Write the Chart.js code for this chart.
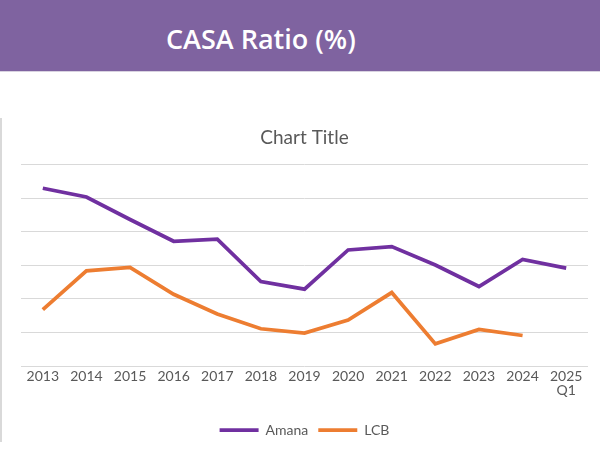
<!DOCTYPE html>
<html>
<head>
<meta charset="utf-8">
<script src="https://cdn.jsdelivr.net/npm/chart.js@4.4.0/dist/chart.umd.min.js"></script>
<style>
  html, body { margin: 0; padding: 0; background: #ffffff; width: 600px; height: 462px; overflow: hidden; }
  #banner { position: absolute; left: 0; top: 0; width: 600px; height: 72px; background: #7F63A0;
    border-bottom: 1px solid #d8d2e0; color: #ffffff; font-family: "Open Sans", sans-serif; font-weight: 600;
    font-size: 27px; text-align: left; line-height: 78px; padding-left: 166px; box-sizing: border-box; }
  #wrap { position: absolute; left: 0; top: 118px; width: 598px; height: 324px; border-left: 2px solid #d9d9d9; overflow: visible; }
  #c { position: absolute; left: 0; top: 0; }
</style>
</head>
<body>
<div id="banner">CASA Ratio (%)</div>
<div id="wrap"><canvas id="c" width="598" height="333"></canvas></div>
<script>
const categories = ["2013","2014","2015","2016","2017","2018","2019","2020","2021","2022","2023","2024",["2025","Q1"]];
const amana = [53.0, 50.4, 43.7, 37.2, 37.8, 25.2, 22.9, 34.6, 35.6, 30.1, 23.7, 31.8, 29.2];
const lcb   = [16.8, 28.4, 29.4, 21.4, 15.5, 11.1, 9.8, 13.7, 21.9, 6.6, 10.9, 9.1, null];
const yMin = 0, yMax = 60, yStep = 10;

new Chart(document.getElementById('c'), {
  type: 'line',
  data: {
    labels: categories,
    datasets: [
      { label: 'Amana', data: amana, borderColor: '#7030A0', backgroundColor: '#7030A0', borderWidth: 3.75,
        pointRadius: 0, tension: 0, fill: false },
      { label: 'LCB', data: lcb, borderColor: '#ED7D31', backgroundColor: '#ED7D31', borderWidth: 3.75,
        pointRadius: 0, tension: 0, fill: false, spanGaps: false }
    ]
  },
  options: {
    responsive: false,
    animation: false,
    layout: { padding: { left: 19, right: 12, top: 0, bottom: 4 } },
    plugins: {
      title: { display: true, text: 'Chart Title', color: '#595959',
        font: { family: 'Lato', size: 19, weight: 'normal' }, padding: { top: 8, bottom: 16 } },
      legend: { position: 'bottom',
        labels: { usePointStyle: true, pointStyle: 'line', pointStyleWidth: 39, color: '#595959',
          font: { family: 'Lato', size: 14 }, padding: 10, boxHeight: 13 } },
      tooltip: { enabled: false }
    },
    scales: {
      x: { offset: true,
        grid: { display: false, drawTicks: false },
        border: { display: false },
        afterFit: (axis) => { axis.height = 47; },
        ticks: { color: '#595959', font: { family: 'Lato', size: 14, lineHeight: 1.02 }, padding: 3, maxRotation: 0, autoSkip: false } },
      y: { min: yMin, max: yMax,
        ticks: { display: false, stepSize: yStep },
        grid: { color: '#d9d9d9', lineWidth: 1, drawTicks: false },
        border: { display: false } }
    }
  }
});
</script>
</body>
</html>
